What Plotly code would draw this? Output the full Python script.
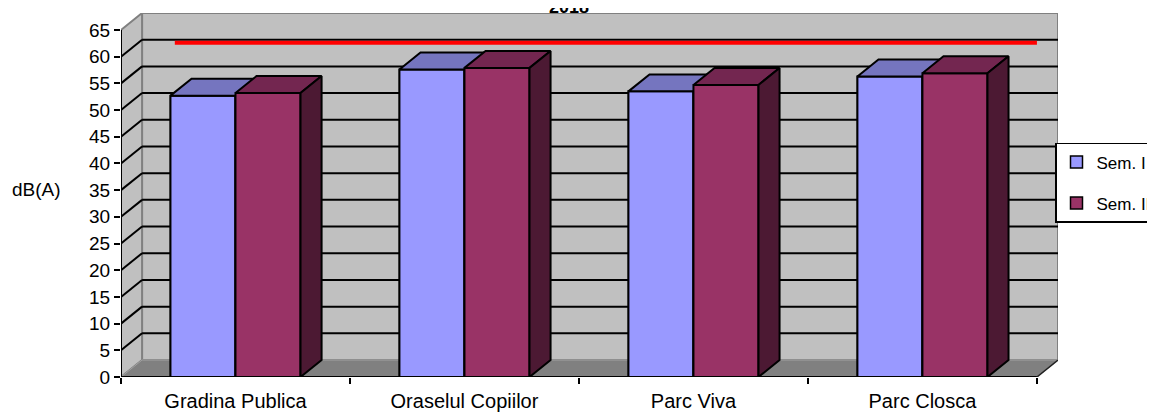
import plotly.graph_objects as go

# ---- data ----
categories = ["Gradina Publica", "Oraselul Copiilor", "Parc Viva", "Parc Closca"]
sem1 = [52.7, 57.6, 53.5, 56.3]
sem2 = [53.2, 57.9, 54.7, 56.9]
series_names = ["Sem. I", "Sem. II"]
limit_value = 62.6
y_ticks = list(range(0, 70, 5))
title_text = "2018"
y_title = "dB(A)"

# ---- styling / geometry ----
DX = 0.092          # depth offset in category units
DY = 3.18           # depth offset in value units
YMAX = 65
BAR_W = 0.284
offsets = [-0.284, 0.0]
front_cols = ["#9999FF", "#993366"]
top_cols = ["#7575BF", "#732650"]
side_cols = ["#4C4C80", "#4C1933"]
FONT = "Liberation Sans, Arial, sans-serif"
PLOT_W = 937
LW = 2

n = len(categories)
centers = [i + 0.5 for i in range(n)]

fig = go.Figure()

# base bar traces (legend + front faces)
for s, vals in enumerate([sem1, sem2]):
    fig.add_trace(go.Bar(
        x=centers, y=vals, width=BAR_W, offset=offsets[s],
        name=series_names[s], legendgroup=series_names[s],
        marker=dict(color=front_cols[s], line=dict(color="black", width=1.5)),
        hoverinfo="skip"))

# 3D faces, drawn in painter order
for i, c in enumerate(centers):
    for s, vals in enumerate([sem1, sem2]):
        v = vals[i]
        x0 = c + offsets[s]
        x1 = x0 + BAR_W
        faces = [
            ([x0, x1, x1, x0, x0], [0, 0, v, v, 0], front_cols[s]),
            ([x0, x1, x1 + DX, x0 + DX, x0], [v, v, v + DY, v + DY, v], top_cols[s]),
            ([x1, x1 + DX, x1 + DX, x1, x1], [0, DY, v + DY, v, 0], side_cols[s]),
        ]
        for fx, fy, col in faces:
            fig.add_trace(go.Scatter(
                x=fx, y=fy, mode="lines", fill="toself", fillcolor=col,
                line=dict(color="black", width=LW), showlegend=False,
                hoverinfo="skip"))

shapes = []
# back wall
shapes.append(dict(type="rect", xref="x", yref="y", x0=DX, x1=n + DX, y0=DY, y1=YMAX + DY,
                   fillcolor="#C0C0C0", line=dict(color="#808080", width=2), layer="below"))
# side wall
shapes.append(dict(type="path", xref="x", yref="y",
                   path=f"M 0,0 L 0,{YMAX} L {DX},{YMAX + DY} L {DX},{DY} Z",
                   fillcolor="#C0C0C0", line=dict(color="#808080", width=2), layer="below"))
# floor
shapes.append(dict(type="path", xref="x", yref="y",
                   path=f"M 0,0 L {n},0 L {n + DX},{DY} L {DX},{DY} Z",
                   fillcolor="#808080", line=dict(color="#A0A0A0", width=1), layer="below"))
# gridlines
for v in y_ticks[1:-1]:
    shapes.append(dict(type="line", xref="x", yref="y", x0=DX, x1=n + DX, y0=v + DY, y1=v + DY,
                       line=dict(color="black", width=LW), layer="below"))
    shapes.append(dict(type="line", xref="x", yref="y", x0=0, x1=DX, y0=v, y1=v + DY,
                       line=dict(color="black", width=LW), layer="below"))
# axis lines
shapes.append(dict(type="line", xref="x", yref="y", x0=0, x1=0, y0=0, y1=YMAX,
                   line=dict(color="black", width=LW)))
shapes.append(dict(type="line", xref="x", yref="y", x0=0, x1=n, y0=0, y1=0,
                   line=dict(color="black", width=LW)))
shapes.append(dict(type="line", xref="x", yref="y", x0=n, x1=n + DX, y0=0, y1=DY,
                   line=dict(color="#202020", width=1.5)))
# red limit line
shapes.append(dict(type="line", xref="x", yref="y", x0=0.235, x1=4.0, y0=limit_value, y1=limit_value,
                   line=dict(color="#FF0000", width=4)))

fig.update_layout(
    width=1200, height=412,
    margin=dict(l=113, r=1200 - 113 - PLOT_W, t=5, b=42.5, autoexpand=False),
    paper_bgcolor="white", plot_bgcolor="rgba(0,0,0,0)",
    barmode="overlay",
    shapes=shapes,
    font=dict(family=FONT, size=19, color="black"),
    showlegend=True,
    legend=dict(x=(1055 - 121) / PLOT_W, y=0.643, xanchor="left", yanchor="top",
                bgcolor="white", bordercolor="black", borderwidth=1.5,
                font=dict(family=FONT, size=17), tracegroupgap=16,
                traceorder="grouped"),
    xaxis=dict(range=[0, n + DX], showgrid=False, zeroline=False, showline=False,
               tickvals=centers, ticktext=categories, ticks="", ticklabelstandoff=10,
               tickfont=dict(size=20),
               minor=dict(tickvals=list(range(n + 1)), ticks="outside", ticklen=6,
                          tickcolor="black", tickwidth=LW),
               fixedrange=True),
    yaxis=dict(range=[0, YMAX + DY], showgrid=False, zeroline=False, showline=False,
               tickvals=y_ticks, ticks="outside", ticklen=6, tickcolor="black", tickwidth=LW,
               tickfont=dict(size=19), fixedrange=True),
    annotations=[
        dict(text=f"<b>{title_text}</b>", xref="paper", yref="paper",
             x=(569 - 121) / PLOT_W, y=1.0, xanchor="center", yanchor="bottom",
             showarrow=False, font=dict(size=18), yshift=-6),
        dict(text=y_title, xref="paper", yref="paper",
             x=(36 - 121) / PLOT_W, y=(377.5 - 190) / 364.5, xanchor="center", yanchor="middle",
             showarrow=False, font=dict(size=19)),
    ],
)

fig.write_html("out.html")
